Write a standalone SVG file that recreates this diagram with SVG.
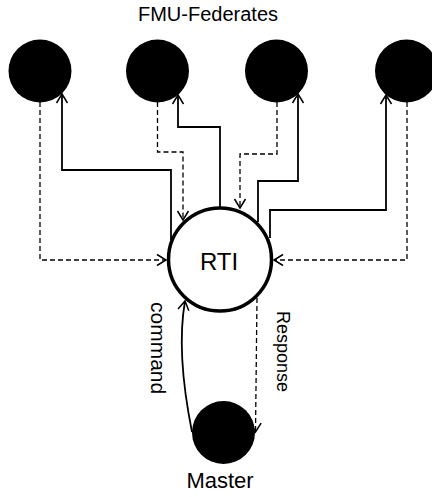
<svg xmlns="http://www.w3.org/2000/svg" width="432" height="497" viewBox="0 0 432 497">
  <defs>
    <marker id="arrow" markerUnits="userSpaceOnUse" markerWidth="20" markerHeight="20" refX="0" refY="0" viewBox="-12 -10 14 20" orient="auto" overflow="visible">
      <path d="M-9,-5.5 L0,0 L-9,5.5" fill="none" stroke="#000" stroke-width="1.5"/>
    </marker>
  </defs>
  <style>
    .fed { fill: #000; }
    .rti { fill: #fff; stroke: #000; stroke-width: 3.5; }
    .solid { fill: none; stroke: #000; stroke-width: 1.8; marker-end: url(#arrow); }
    .dash { fill: none; stroke: #000; stroke-width: 1.3; stroke-dasharray: 5 3; marker-end: url(#arrow); }
    .lbl { font-family: "Liberation Sans", Arial, sans-serif; fill: #000; }
  </style>
  <rect width="432" height="497" fill="#fff"/>

  <text class="lbl" x="208" y="21" font-size="20" text-anchor="middle">FMU-Federates</text>

  <!-- federates -->
  <g id="fed1"><circle class="fed" cx="40" cy="71" r="31.5"/></g>
  <g id="fed2"><circle class="fed" cx="157.5" cy="71" r="31.5"/></g>
  <g id="fed3"><circle class="fed" cx="276.5" cy="71" r="31.5"/></g>
  <g id="fed4"><circle class="fed" cx="406.5" cy="71" r="31.5"/></g>

  <!-- connectors -->
  <g id="connectors">
    <!-- federate 1 -->
    <path class="dash" d="M40,102 V260 H166"/>
    <path class="solid" d="M171,240 V170 H62 V94"/>
    <!-- federate 2 -->
    <path class="dash" d="M157.5,102 V152 H183 V220"/>
    <path class="solid" d="M220,207 V127 H178 V95"/>
    <!-- federate 3 -->
    <path class="dash" d="M277,102 V154 H240 V208"/>
    <path class="solid" d="M258,222 V181 H298 V94"/>
    <!-- federate 4 -->
    <path class="solid" d="M270,238 V210 H386 V95"/>
    <path class="dash" d="M407,102 V260 H274"/>
    <!-- master -->
    <path class="solid" d="M192,432 Q176,352 185,301" stroke-width="1.5"/>
    <path class="dash" d="M257,298 L255.5,432"/>
  </g>

  <!-- RTI -->
  <g id="rti">
    <circle class="rti" cx="220" cy="259.5" r="51.5"/>
    <text class="lbl" x="219" y="270" font-size="24" text-anchor="middle">RTI</text>
  </g>

  <!-- master -->
  <g id="master">
    <circle class="fed" cx="223.5" cy="432.5" r="31.5"/>
    <text class="lbl" x="220" y="488" font-size="22" text-anchor="middle">Master</text>
  </g>

  <text class="lbl" font-size="21" transform="translate(151,302) rotate(90)">command</text>
  <text class="lbl" font-size="18" transform="translate(277,311) rotate(90)">Response</text>
</svg>
